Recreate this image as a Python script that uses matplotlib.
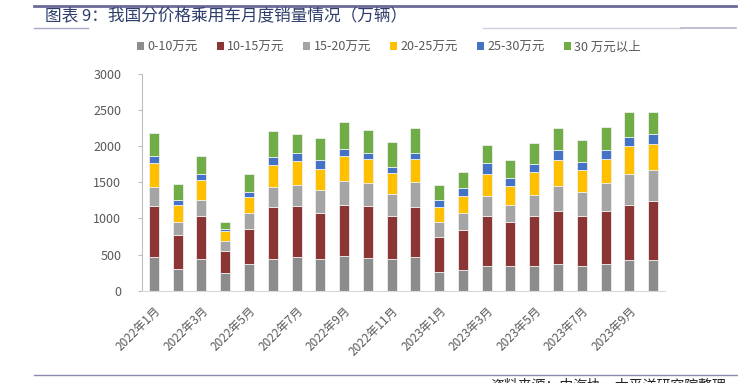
import numpy as np
import matplotlib.pyplot as plt
from matplotlib.patches import Patch
from matplotlib.lines import Line2D

plt.rcParams['font.family'] = ['Noto Sans CJK SC', 'DejaVu Sans']

months = ['2022年1月', '2022年2月', '2022年3月', '2022年4月', '2022年5月', '2022年6月',
          '2022年7月', '2022年8月', '2022年9月', '2022年10月', '2022年11月', '2022年12月',
          '2023年1月', '2023年2月', '2023年3月', '2023年4月', '2023年5月', '2023年6月',
          '2023年7月', '2023年8月', '2023年9月', '2023年10月']
series_names = ['0-10万元', '10-15万元', '15-20万元', '20-25万元', '25-30万元', '30 万元以上']

s0_10 = [471, 295, 434, 240, 365, 438, 462, 434, 475, 452, 443, 471,
         258, 286, 346, 337, 346, 365, 346, 365, 420, 429]
s10_15 = [701, 476, 595, 309, 489, 716, 715, 646, 711, 725, 595, 692,
          490, 559, 688, 614, 692, 738, 692, 743, 761, 812]
s15_20 = [268, 180, 231, 134, 217, 281, 286, 314, 328, 318, 300, 342,
          203, 230, 281, 230, 287, 342, 328, 387, 439, 425]
s20_25 = [328, 235, 272, 138, 230, 305, 332, 295, 351, 328, 296, 318,
          212, 240, 305, 264, 313, 364, 300, 323, 383, 369]
s25_30 = [97, 65, 88, 33, 65, 111, 111, 120, 101, 83, 78, 83,
          88, 106, 143, 120, 120, 143, 115, 134, 129, 129]
s30_up = [313, 226, 240, 101, 254, 360, 263, 305, 365, 314, 351, 342,
          207, 227, 249, 244, 286, 305, 300, 314, 346, 314]

colors = ['#8c8c8c', '#8b3535', '#a5a5a5', '#ffc000', '#4472c4', '#70ad47']

fig = plt.figure(figsize=(7.38, 3.83), dpi=100)
ax = fig.add_axes([142/738, 1-290.7/383, (665-142)/738, (290.7-74)/383])

x = np.arange(len(months))
bottom = np.zeros(len(months))
for vals, c, name in zip([s0_10, s10_15, s15_20, s20_25, s25_30, s30_up], colors, series_names):
    ax.bar(x, vals, width=0.42, bottom=bottom, color=c, edgecolor='#eeeeee', linewidth=0.6, label=name)
    bottom += np.array(vals)

ax.set_xlim(-0.5, len(months)-0.5)
ax.set_ylim(0, 3000)
ax.set_yticks(np.arange(0, 3001, 500))
ax.set_xticks(x[::2])
ax.set_xticklabels(months[::2], rotation=45, ha='right', rotation_mode='anchor')
ax.tick_params(axis='y', labelsize=9, colors='#595959', length=3, color='#bfbfbf', pad=12)
ax.tick_params(axis='x', labelsize=8.5, colors='#595959', length=0, pad=10)
for s in ['top', 'right']:
    ax.spines[s].set_visible(False)
ax.spines['left'].set_color('#bfbfbf')
ax.spines['bottom'].set_color('#d9d9d9')

handles = [Patch(facecolor=c, edgecolor='none') for c in colors]
fig.legend(handles, series_names, loc='center', bbox_to_anchor=(389/738, 1-47/383), ncol=6,
           frameon=False, fontsize=9, handlelength=0.55, handleheight=0.55, handletextpad=0.3,
           columnspacing=1.5, labelcolor='#595959')

# header / footer rules
fig.add_artist(Line2D([34/738, 736/738], [1-6/383, 1-6/383], color='#6a6a9a', lw=2))
fig.add_artist(Line2D([34/738, 88/738], [1-28/383, 1-28/383], color='#a8a8c8', lw=1))
fig.add_artist(Line2D([483/738, 681/738], [1-28/383, 1-28/383], color='#d0d0dc', lw=1))
fig.add_artist(Line2D([681/738, 736/738], [1-28/383, 1-28/383], color='#b4b4cc', lw=1.2))
fig.add_artist(Line2D([34/738, 1], [1-375/383, 1-375/383], color='#8a8ab0', lw=1))

fig.text(45/738, 1-17/383, '图表 9：我国分价格乘用车月度销量情况（万辆）', fontsize=12,
         color='#2f3e6b', va='center', ha='left')
fig.text(490/738, 1-378/383, '资料来源：中汽协，太平洋研究院整理', fontsize=10,
         color='#222222', va='top', ha='left')

fig.savefig('out.png', dpi=100)
